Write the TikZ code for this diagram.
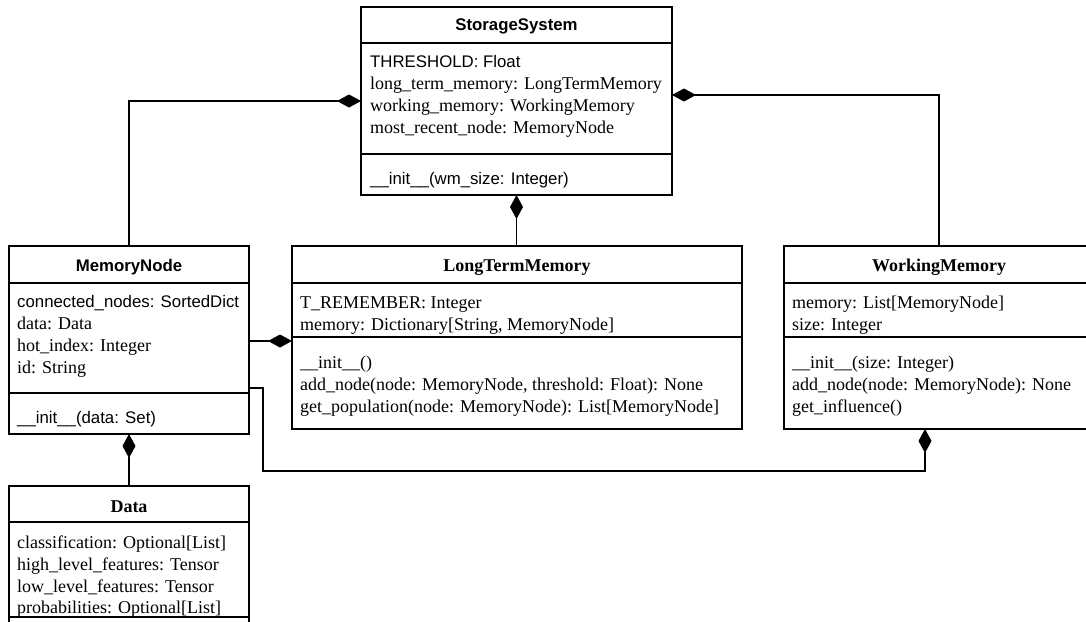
\documentclass[tikz,border=0pt]{standalone}
\usepackage{fontspec}
\setmainfont{Liberation Serif}
\newfontfamily\sansfam{Liberation Sans}
\usetikzlibrary{arrows.meta}

\newcommand\serfont{\fontsize{18}{22}\selectfont}
\newcommand\sanfont{\sansfam\fontsize{16.8}{22}\selectfont}

\tikzset{
  classbox/.style={draw, line width=1.2pt, inner sep=0pt, outer sep=0pt},
  rule/.style={line width=1.2pt},
  ser/.style={anchor=base west, inner sep=0pt, font=\serfont},
  san/.style={anchor=base west, inner sep=0pt, font=\sanfont},
  sertitle/.style={anchor=base, inner sep=0pt, font=\serfont\bfseries},
  santitle/.style={anchor=base, inner sep=0pt, font=\sanfont\bfseries},
  comp/.style={line width=1.2pt, {Diamond[length=24pt,width=13pt]}-},
}

\begin{document}
\begin{tikzpicture}[x=1pt, y=-1pt]
\useasboundingbox (0,0) rectangle (1086,621);
\clip (0,0) rectangle (1086,621);

% class boxes
\node[classbox, minimum width=311pt, minimum height=188pt] (ss) at (516.5,101) {};
\node[classbox, minimum width=240pt, minimum height=188pt] (mn) at (129,340) {};
\node[classbox, minimum width=450pt, minimum height=183pt] (ltm) at (517,337.5) {};
\node[classbox, minimum width=310pt, minimum height=183pt] (wm) at (939,337.5) {};
\node[classbox, minimum width=240pt, minimum height=174pt] (data) at (129,573) {};

% compartment rules
\draw[rule] (ss.west |- 0,43) -- (ss.east |- 0,43);
\draw[rule] (ss.west |- 0,154) -- (ss.east |- 0,154);
\draw[rule] (mn.west |- 0,283) -- (mn.east |- 0,283);
\draw[rule] (mn.west |- 0,393) -- (mn.east |- 0,393);
\draw[rule] (ltm.west |- 0,283) -- (ltm.east |- 0,283);
\draw[rule] (ltm.west |- 0,337) -- (ltm.east |- 0,337);
\draw[rule] (wm.west |- 0,283) -- (wm.east |- 0,283);
\draw[rule] (wm.west |- 0,337) -- (wm.east |- 0,337);
\draw[rule] (data.west |- 0,522) -- (data.east |- 0,522);
\draw[rule] (data.west |- 0,617) -- (data.east |- 0,617);

% StorageSystem
\node[santitle] (ssT) at (516.5,30) {StorageSystem};
\node[san] (ssA1) at (370,67) {THRESHOLD: Float};
\node[ser] (ssA2) at (370,89) {long\_term\_memory: LongTermMemory};
\node[ser] (ssA3) at (370,111) {working\_memory: WorkingMemory};
\node[ser] (ssA4) at (370,133) {most\_recent\_node: MemoryNode};
\node[san] (ssM1) at (370,184) {\_\_init\_\_(wm\_size: Integer)};

% MemoryNode
\node[santitle] (mnT) at (129,271) {MemoryNode};
\node[san] (mnA1) at (17,307) {connected\_nodes: SortedDict};
\node[ser] (mnA2) at (17,329) {data: Data};
\node[ser] (mnA3) at (17,351) {hot\_index: Integer};
\node[ser] (mnA4) at (17,373) {id: String};
\node[san] (mnM1) at (17,423) {\_\_init\_\_(data: Set)};

% LongTermMemory
\node[sertitle] (ltmT) at (517,271) {LongTermMemory};
\node[ser] (ltmA1) at (300,308) {T\_REMEMBER: Integer};
\node[ser] (ltmA2) at (300,330) {memory: Dictionary[String, MemoryNode]};
\node[ser] (ltmM1) at (300,368) {\_\_init\_\_()};
\node[ser] (ltmM2) at (300,390) {add\_node(node: MemoryNode, threshold: Float): None};
\node[ser] (ltmM3) at (300,412) {get\_population(node: MemoryNode): List[MemoryNode]};

% WorkingMemory
\node[sertitle] (wmT) at (939,271) {WorkingMemory};
\node[ser] (wmA1) at (792,308) {memory: List[MemoryNode]};
\node[ser] (wmA2) at (792,330) {size: Integer};
\node[ser] (wmM1) at (792,368) {\_\_init\_\_(size: Integer)};
\node[ser] (wmM2) at (792,390) {add\_node(node: MemoryNode): None};
\node[ser] (wmM3) at (792,412) {get\_influence()};

% Data
\node[sertitle] (dataT) at (129,512) {Data};
\node[ser] (dataA1) at (17,548) {classification: Optional[List]};
\node[ser] (dataA2) at (17,570) {high\_level\_features: Tensor};
\node[ser] (dataA3) at (17,592) {low\_level\_features: Tensor};
\node[ser] (dataA4) at (17,613) {probabilities: Optional[List]};

% composition connectors (diamond at the owner)
\draw[comp] (ss.west |- 0,101) -| (mn.north);
\draw[comp] (ss.east |- 0,95) -| (wm.north);
\draw[comp] (ss.south) -- (ss.south |- ltm.north);
\draw[comp] (ltm.west |- 0,341) -- (mn.east |- 0,341);
\draw[comp] (wm.south -| 925,0) |- (263,471) |- (mn.east |- 0,388);
\draw[comp] (mn.south) -- (data.north);
\end{tikzpicture}
\end{document}
